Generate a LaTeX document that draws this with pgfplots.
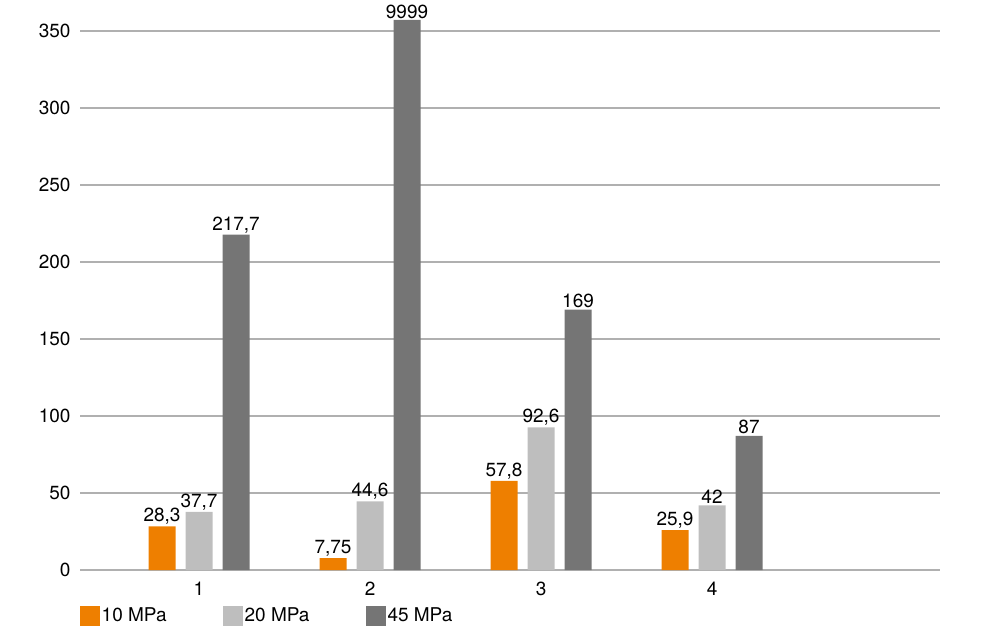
\documentclass[border=0pt]{standalone}
\usepackage{fontspec}
\setmainfont{TeX Gyre Heros}
\usepackage{pgfplots}
\usepackage{pgfplotstable}
\pgfplotsset{compat=1.18}

\definecolor{orng}{HTML}{EE7F00}
\definecolor{lgray}{HTML}{BEBEBE}
\definecolor{dgray}{HTML}{757575}
\definecolor{gridc}{HTML}{B0B0B0}

% 10 MPa
\pgfplotstableread{
x y label
1 28.3 28,3
2 7.75 7,75
3 57.8 57,8
4 25.9 25,9
}\tenmpa
% 20 MPa
\pgfplotstableread{
x y label
1 37.7 37,7
2 44.6 44,6
3 92.6 92,6
4 42 42
}\twentympa
% 45 MPa
\pgfplotstableread{
x y label
1 217.7 217,7
2 9999 9999
3 169 169
4 87 87
}\fortyfivempa

\begin{document}
\fontsize{19bp}{21bp}\selectfont
\begin{tikzpicture}
\useasboundingbox (-80bp,-71bp) rectangle (914bp,570bp);
\begin{axis}[
  at={(0,0)}, anchor=south west,
  scale only axis, width=860bp, height=550bp,
  xmin=0.304, xmax=5.333, ymin=0, ymax=357,
  ybar=10bp, bar width=27bp,
  xtick={1,2,3,4}, ytick={0,50,...,350},
  axis line style={draw=none}, major tick length=0pt,
  ymajorgrids, grid style={gridc, line width=1.6bp},
  /pgf/number format/assume math mode=true,
  yticklabel style={anchor=east, xshift=-3bp},
  xticklabel style={yshift=-5bp},
  restrict y to domain*=0:357,
  point meta=explicit symbolic,
  nodes near coords={\pgfplotspointmeta},
  every node near coord/.append style={anchor=south, inner sep=1.5bp, black},
  legend columns=3,
  legend style={draw=none, fill=none, at={(0.0,-0.066)}, anchor=north west,
    inner sep=0pt, nodes={inner sep=1.5bp},
    /tikz/every even column/.append style={column sep=55bp}},
  legend image code/.code={\fill[#1] (0bp,-10bp) rectangle (20bp,10bp);},
]
\addplot[fill=orng, draw=none] table[x=x, y=y, meta=label] {\tenmpa};
\addlegendentry{10 MPa}
\addplot[fill=lgray, draw=none] table[x=x, y=y, meta=label] {\twentympa};
\addlegendentry{20 MPa}
\addplot[fill=dgray, draw=none] table[x=x, y=y, meta=label] {\fortyfivempa};
\addlegendentry{45 MPa}
\end{axis}
\end{tikzpicture}
\end{document}
